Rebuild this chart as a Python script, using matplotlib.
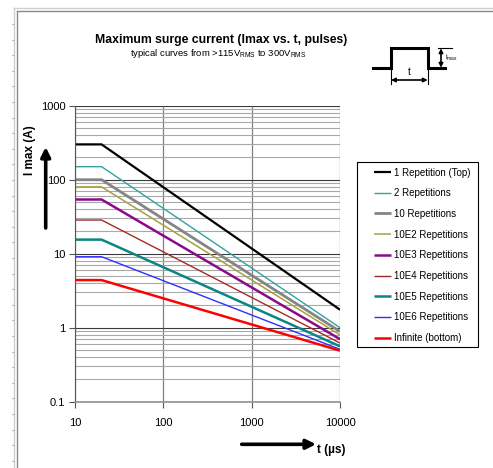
import numpy as np
import matplotlib
matplotlib.use("Agg")
import matplotlib.pyplot as plt
from matplotlib.patches import Rectangle
from matplotlib.ticker import FixedLocator, NullFormatter, LogLocator

plt.rcParams['font.family'] = ['Liberation Sans', 'DejaVu Sans']

# pulse width in microseconds: flat up to 20 us, then straight decay on log-log
t_us = [10, 20, 10000]

labels = ["1 Repetition (Top)", "2 Repetitions", "10 Repetitions",
          "10E2 Repetitions", "10E3 Repetitions", "10E4 Repetitions",
          "10E5 Repetitions", "10E6 Repetitions", "Infinite (bottom)"]

i_flat = [300, 150, 100, 80, 54, 28.5, 15.5, 9.1, 4.4]
i_end = [1.75, 1.0, 0.89, 0.80, 0.70, 0.62, 0.56, 0.51, 0.49]

colors = ['#000000', '#2fa3a3', '#858585', '#a6a040', '#8a0a8a',
          '#a32a2a', '#0b8585', '#2f2fff', '#ff0000']
widths = [1.6, 1.0, 2.0, 1.1, 1.8, 1.0, 1.8, 1.0, 1.8]

fig = plt.figure(figsize=(4.93, 4.68), dpi=100)
ax = fig.add_axes([75/493, 1 - 401.7/468, 265/493, 296/468])

for lab, a, b, c, w in zip(labels, i_flat, i_end, colors, widths):
    ax.plot(t_us, [a, a, b], color=c, lw=w, label=lab, solid_capstyle='butt')

ax.set_xscale('log')
ax.set_yscale('log')
ax.set_xlim(10, 10000)
ax.set_ylim(0.1, 1000)

ax.xaxis.set_major_locator(FixedLocator([10, 100, 1000, 10000]))
ax.xaxis.set_minor_locator(FixedLocator([]))
ax.set_xticklabels(['10', '100', '1000', '10000'])
ax.yaxis.set_major_locator(FixedLocator([0.1, 1, 10, 100, 1000]))
ax.yaxis.set_minor_locator(LogLocator(base=10, subs=np.arange(2, 10)))
ax.yaxis.set_minor_formatter(NullFormatter())
ax.set_yticklabels(['0.1', '1', '10', '100', '1000'])

ax.grid(True, which='minor', axis='y', color='#a8a8a8', lw=0.8)
ax.grid(True, which='major', axis='y', color='#3a3a3a', lw=0.8)
ax.grid(True, which='major', axis='x', color='#808080', lw=0.9)
ax.set_axisbelow(True)

for s in ['top', 'right']:
    ax.spines[s].set_visible(False)
ax.spines['left'].set_color('#555555')
ax.spines['bottom'].set_color('#909090')
ax.spines['bottom'].set_linewidth(1.2)
ax.tick_params(which='major', length=4, width=0.8, color='#555555',
               labelsize=8, pad=3)
ax.tick_params(axis='x', pad=8)
ax.tick_params(which='minor', length=0)

# legend entries without frame; the box is drawn separately below
leg = fig.legend(loc='upper left', bbox_to_anchor=(374/493, 1 - 167.5/468),
                 fontsize=7, frameon=False, handlelength=1.75,
                 handletextpad=0.34, labelspacing=1.10, borderpad=0,
                 borderaxespad=0)

# overlay in pixel coordinates for titles, arrows and the pulse sketch
ov = fig.add_axes([0, 0, 1, 1], zorder=5)
ov.set_xlim(0, 493)
ov.set_ylim(468, 0)
ov.axis('off')
ov.patch.set_alpha(0)

ov.add_patch(Rectangle((357, 162), 121, 185, fill=False, edgecolor='black',
                       lw=0.8))

ov.text(221, 40, "Maximum surge current (Imax vs. t, pulses)", ha='center',
        va='center', fontsize=8.8, fontweight='bold')
ov.text(218, 54, r"typical curves from >115V$_\mathregular{RMS}$ to 300V$_\mathregular{RMS}$",
        ha='center', va='center', fontsize=6.8)

# axis titles with arrows
ov.text(30, 150, "I max (A)", rotation=90, ha='center', va='center',
        fontsize=8.5, fontweight='bold')
ov.annotate('', xy=(45.7, 147), xytext=(45.7, 228),
            arrowprops=dict(arrowstyle='-|>', lw=2.6, color='black',
                            mutation_scale=14, shrinkA=0, shrinkB=0))
ov.annotate('', xy=(316, 444.3), xytext=(241.7, 444.3),
            arrowprops=dict(arrowstyle='-|>', lw=2.6, color='black',
                            mutation_scale=14, shrinkA=0, shrinkB=0))
ov.text(317, 450, "t (\u00b5s)", ha='left', va='center', fontsize=8.5,
        fontweight='bold')

# pulse sketch
ov.plot([373, 391, 391, 427.7, 427.7, 445], [67.7, 67.7, 48.3, 48.3, 67.7, 67.7],
        color='black', lw=2.2, solid_joinstyle='miter')
ov.plot([391, 391], [67.7, 84], color='black', lw=0.8)
ov.plot([427.7, 427.7], [67.7, 84], color='black', lw=0.8)
ov.annotate('', xy=(391, 80), xytext=(427.7, 80),
            arrowprops=dict(arrowstyle='<|-|>', lw=1.2, color='black',
                            mutation_scale=6, shrinkA=0, shrinkB=0))
ov.annotate('', xy=(441, 48.3), xytext=(441, 67.7),
            arrowprops=dict(arrowstyle='<|-|>', lw=1.2, color='black',
                            mutation_scale=6, shrinkA=0, shrinkB=0))
ov.plot([438, 452], [48.3, 48.3], color='black', lw=0.8)
ov.text(409, 72, "t", ha='center', va='center', fontsize=7)
ov.text(445, 58, "i$_\\mathregular{max}$", ha='left', va='center', fontsize=5)

# sheet borders
ov.plot([14, 14], [8, 468], color='#cfcfcf', lw=1.0)
ov.plot([14, 493], [8, 8], color='#cfcfcf', lw=1.0)
for yy in np.arange(24, 468, 15.6):
    ov.plot([12, 14], [yy, yy], color='#bdbdbd', lw=0.8)
ov.plot([16.5, 16.5], [11, 468], color='#8a8a8a', lw=1.0)
ov.plot([16.5, 493], [11, 11], color='#8a8a8a', lw=1.0)

fig.savefig("out.png", dpi=100)
